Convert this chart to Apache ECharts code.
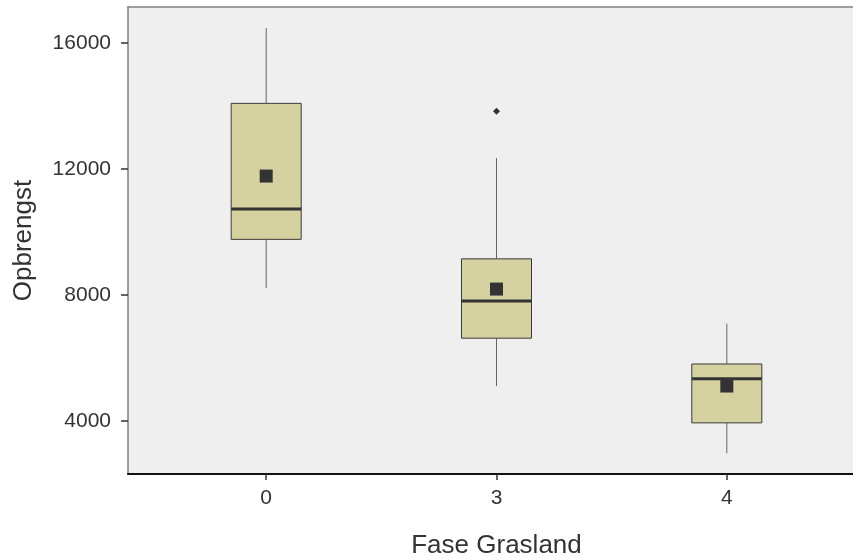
<!DOCTYPE html>
<html><head><meta charset="utf-8">
<script src="https://cdn.jsdelivr.net/npm/echarts@6/dist/echarts.min.js"></script>
<style>html,body{margin:0;padding:0;background:#fff}#c{width:853px;height:558px}</style>
</head><body><div id="c"></div>
<script>
const categories = ['0', '3', '4'];
// [low whisker, Q1, median, Q3, high whisker]
const boxValues = [
  [8220, 9770, 10730, 14090, 16480],
  [5110, 6630, 7810, 9150, 12350],
  [2980, 3940, 5340, 5810, 7090]
];
const meanValues = [11780, 8190, 5110];
const outliers = [[1, 13840]];
const yTicks = [4000, 8000, 12000, 16000];

const font = 'Liberation Sans, Arial, sans-serif';
const chart = echarts.init(document.getElementById('c'));
const boxData = boxValues.map((v, i) => [i].concat(v));
chart.setOption({
  animation: false,
  grid: { left: 128, right: -12, top: 7, bottom: 84, show: true, backgroundColor: '#efefef', borderWidth: 0, outerBoundsMode: 'none', containLabel: false },
  xAxis: [{
    type: 'value', min: -0.6, max: 2.6,
    name: 'Fase Grasland', nameLocation: 'middle', nameGap: 59,
    nameTextStyle: { fontFamily: font, fontSize: 26, color: '#333' },
    axisLine: { show: true, onZero: false, lineStyle: { color: '#111', width: 2 } },
    axisTick: { show: true, length: 6, customValues: [0, 1, 2], lineStyle: { color: '#333', width: 1.5 } },
    axisLabel: { customValues: [0, 1, 2], formatter: v => categories[Math.round(v)], fontFamily: font, fontSize: 21, color: '#333', margin: 14 },
    splitLine: { show: false }
  }, {
    type: 'value', min: -0.6, max: 2.6, position: 'top',
    axisLine: { show: true, onZero: false, lineStyle: { color: '#808080', width: 1.5 } },
    axisTick: { show: false }, axisLabel: { show: false }, splitLine: { show: false }
  }],
  yAxis: {
    type: 'value', min: 2315, max: 17151,
    name: 'Opbrengst', nameLocation: 'middle', nameGap: 91,
    nameTextStyle: { fontFamily: font, fontSize: 26, color: '#333' },
    axisLine: { show: true, onZero: false, lineStyle: { color: '#808080', width: 1.5 } },
    axisTick: { show: true, length: 7, customValues: yTicks, lineStyle: { color: '#333', width: 1.5 } },
    axisLabel: { customValues: yTicks, formatter: v => String(v), fontFamily: font, fontSize: 21, color: '#333', margin: 17 },
    splitLine: { show: false }
  },
  series: [{
    type: 'custom',
    data: boxData,
    encode: { x: 0, y: [1, 2, 3, 4, 5] },
    renderItem: function (params, api) {
      const x = api.value(0);
      const half = api.size([1, 0])[0] * 0.152;
      const pLow = api.coord([x, api.value(1)]);
      const pQ1 = api.coord([x, api.value(2)]);
      const pMed = api.coord([x, api.value(3)]);
      const pQ3 = api.coord([x, api.value(4)]);
      const pHigh = api.coord([x, api.value(5)]);
      const cx = pMed[0];
      return {
        type: 'group',
        children: [
          { type: 'line', shape: { x1: cx, y1: pHigh[1], x2: cx, y2: pQ3[1] }, style: { stroke: '#666', lineWidth: 1 } },
          { type: 'line', shape: { x1: cx, y1: pQ1[1], x2: cx, y2: pLow[1] }, style: { stroke: '#666', lineWidth: 1 } },
          { type: 'rect', shape: { x: cx - half, y: pQ3[1], width: half * 2, height: pQ1[1] - pQ3[1] }, style: { fill: '#d5d1a0', stroke: '#3a3a3a', lineWidth: 1 } },
          { type: 'line', shape: { x1: cx - half, y1: pMed[1], x2: cx + half, y2: pMed[1] }, style: { stroke: '#333', lineWidth: 3 } }
        ]
      };
    }
  }, {
    type: 'scatter',
    data: meanValues.map((v, i) => [i, v]),
    symbol: 'rect', symbolSize: 13,
    itemStyle: { color: '#333', opacity: 1 }, z: 5
  }, {
    type: 'scatter',
    data: outliers,
    symbol: 'diamond', symbolSize: 7,
    itemStyle: { color: '#333', opacity: 1 }, z: 5
  }]
});
</script></body></html>
